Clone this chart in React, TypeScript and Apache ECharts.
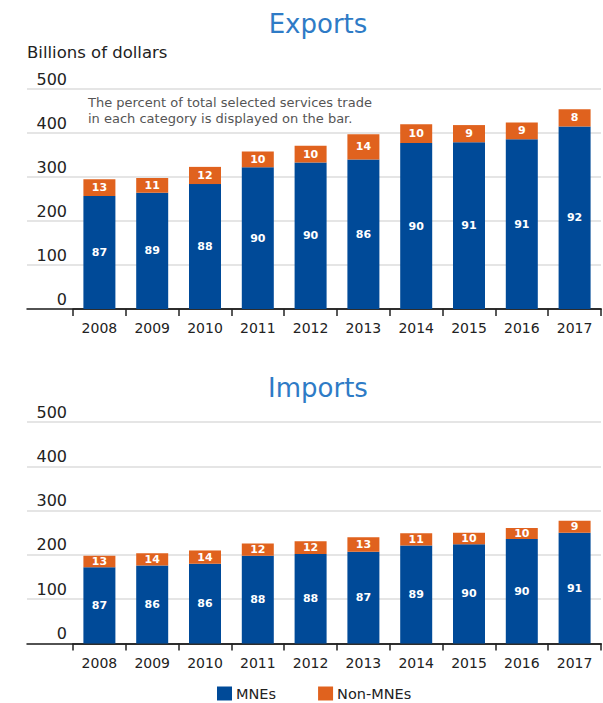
import React, { useEffect, useRef } from "react";
import * as echarts from "echarts";

const years = ["2008", "2009", "2010", "2011", "2012", "2013", "2014", "2015", "2016", "2017"];

const exportsMNE = [257, 264, 284, 322, 333, 340, 377, 379, 386, 415];
const exportsNonMNE = [38, 34, 39, 36, 38, 57, 43, 39, 38, 39];
const exportsMNEPct = [87, 89, 88, 90, 90, 86, 90, 91, 91, 92];
const exportsNonMNEPct = [13, 11, 12, 10, 10, 14, 10, 9, 9, 8];

const importsMNE = [172, 176, 180, 198, 202, 207, 221, 224, 236, 250];
const importsNonMNE = [26, 28, 30, 28, 29, 33, 28, 26, 25, 27];
const importsMNEPct = [87, 86, 86, 88, 88, 87, 89, 90, 90, 91];
const importsNonMNEPct = [13, 14, 14, 12, 12, 13, 11, 10, 10, 9];

const yTicks = { min: 0, max: 500, interval: 100 };

const FONT = "DejaVu Sans";
const BLUE = "#004A98";
const ORANGE = "#E0621E";
const TITLE_BLUE = "#2E7BC6";
const DARK = "#222222";
const GRID_GRAY = "#DCDCDC";

export default function App() {
  const ref = useRef<HTMLDivElement>(null);

  useEffect(() => {
    if (!ref.current) return;
    const chart = echarts.init(ref.current, null, { renderer: "svg" });

    const gridTops = [89, 89, 422, 422];
    const gridHeights = [220, 220, 221.5, 221.5];
    const grids = gridTops.map((top, i) => ({
      left: i % 2 === 0 ? 27 : 73,
      right: 2,
      top,
      height: gridHeights[i],
      containLabel: false,
    }));

    const xAxes = grids.map((_, i) =>
      i % 2 === 0
        ? {
            type: "value",
            gridIndex: i,
            min: 0,
            max: 1,
            axisLine: { show: true, onZero: false, lineStyle: { color: DARK, width: 1.5 } },
            axisTick: { show: false },
            axisLabel: { show: false },
            splitLine: { show: false },
          }
        : {
            type: "category",
            gridIndex: i,
            data: years,
            axisLine: { show: true, lineStyle: { color: DARK, width: 1.5 } },
            axisTick: { show: true, length: 7, lineStyle: { color: DARK, width: 1.5 } },
            axisLabel: {
              color: DARK,
              fontFamily: FONT,
              fontSize: 14,
              margin: 12,
            },
          }
    );

    const yAxes = grids.map((_, i) =>
      i % 2 === 0
        ? {
            type: "value",
            gridIndex: i,
            ...yTicks,
            axisLine: { show: false },
            axisTick: { show: false },
            axisLabel: { show: false },
            splitLine: { show: true, lineStyle: { color: GRID_GRAY, width: 1.5 } },
          }
        : {
            type: "value",
            gridIndex: i,
            ...yTicks,
            axisLine: { show: false },
            axisTick: { show: false },
            splitLine: { show: false },
            axisLabel: {
              color: DARK,
              fontFamily: FONT,
              fontSize: 16,
              margin: 6,
              verticalAlign: "bottom",
              lineHeight: 16,
              padding: [0, 0, 2, 0],
            },
          }
    );

    const label = (pcts: number[]) => ({
      show: true,
      position: "inside",
      color: "#fff",
      fontFamily: FONT,
      fontWeight: "bold",
      fontSize: 11,
      formatter: (p: any) => String(pcts[p.dataIndex]),
    });

    const bar = (name: string, data: number[], idx: number, stack: string, color: string, pcts: number[]) => ({
      name,
      type: "bar",
      xAxisIndex: idx,
      yAxisIndex: idx,
      stack,
      data,
      barWidth: 32,
      itemStyle: { color },
      label: label(pcts),
    });

    chart.setOption({
      animation: false,
      textStyle: { fontFamily: FONT },
      title: [
        {
          text: "Exports",
          left: 313,
          top: 6,
          textAlign: "center",
          textStyle: { color: TITLE_BLUE, fontFamily: FONT, fontSize: 26, fontWeight: "normal" },
        },
        {
          text: "Imports",
          left: 313,
          top: 370,
          textAlign: "center",
          textStyle: { color: TITLE_BLUE, fontFamily: FONT, fontSize: 26, fontWeight: "normal" },
        },
        {
          text: "Billions of dollars",
          left: 22,
          top: 39,
          textStyle: { color: DARK, fontFamily: FONT, fontSize: 16.5, fontWeight: "normal" },
        },
        {
          text: "The percent of total selected services trade\nin each category is displayed on the bar.",
          left: 83,
          top: 89,
          textStyle: { color: "#555555", fontFamily: FONT, fontSize: 13, lineHeight: 16, fontWeight: "normal" },
        },
      ],
      legend: {
        data: ["MNEs", "Non-MNEs"],
        left: 212,
        top: 681,
        itemWidth: 15,
        itemHeight: 14,
        itemGap: 42,
        icon: "rect",
        textStyle: { color: DARK, fontFamily: FONT, fontSize: 14.5, padding: [0, 0, 0, -1] },
      },
      grid: grids,
      xAxis: xAxes,
      yAxis: yAxes,
      series: [
        bar("MNEs", exportsMNE, 1, "exp", BLUE, exportsMNEPct),
        bar("Non-MNEs", exportsNonMNE, 1, "exp", ORANGE, exportsNonMNEPct),
        bar("MNEs", importsMNE, 3, "imp", BLUE, importsMNEPct),
        bar("Non-MNEs", importsNonMNE, 3, "imp", ORANGE, importsNonMNEPct),
      ],
    });

    return () => chart.dispose();
  }, []);

  return (
    <div
      ref={ref}
      style={{ position: "fixed", left: 0, top: 0, width: 603, height: 703, background: "#fff" }}
    />
  );
}
